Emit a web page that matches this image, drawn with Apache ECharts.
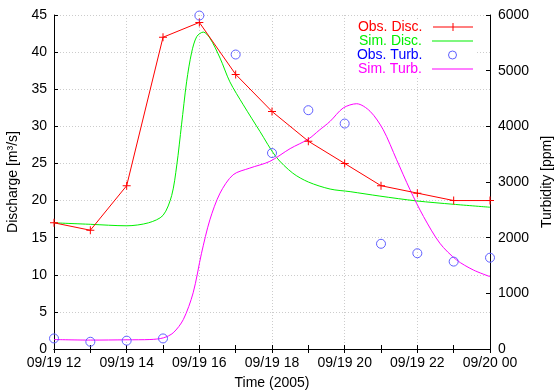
<!DOCTYPE html>
<html>
<head>
<meta charset="utf-8">
<script src="https://cdn.jsdelivr.net/npm/echarts@6/dist/echarts.min.js"></script>
<style>
html,body{margin:0;padding:0;background:#fff;}
#c{width:556px;height:392px;}
</style>
</head>
<body>
<div id="c"></div>
<script>
// Time in hours from 09/19 00 (24 = 09/20 00)
var obsDiscT = [12, 13, 14, 15, 16, 17, 18, 19, 20, 21, 22, 23, 24];
var obsDiscV = [17, 16, 22, 42, 44, 37, 32, 28, 25, 22, 21, 20, 20];

var simDiscT = [12, 13, 14, 14.6, 15.0, 15.24, 15.38, 15.51, 15.65, 15.79, 15.93, 16.11, 16.29, 16.57, 16.84, 17.21, 17.67, 18.11, 18.57, 19.0, 19.6, 20.15, 20.97, 21.98, 22.99, 24];
var simDiscV = [17.0, 16.8, 16.6, 17.0, 18.0, 20.7, 24.8, 30.2, 36.0, 40.0, 42.1, 42.7, 41.9, 39.2, 36.0, 32.9, 29.3, 25.9, 23.7, 22.5, 21.55, 21.2, 20.6, 19.95, 19.5, 19.1];

var obsTurbT = [12, 13, 14, 15, 16, 17, 18, 19, 20, 21, 22, 23, 24];
var obsTurbV = [190, 130, 150, 190, 5990, 5290, 3520, 4290, 4050, 1890, 1720, 1570, 1640];

var simTurbT = [12, 13, 14, 14.64, 15.01, 15.28, 15.56, 15.83, 16.06, 16.29, 16.57, 16.93, 17.39, 17.94, 18.5, 19.0, 19.3, 19.6, 19.96, 20.33, 20.7, 21.06, 21.43, 21.8, 22.17, 22.62, 23.08, 23.54, 24];
var simTurbV = [170, 160, 165, 170, 200, 290, 530, 1010, 1720, 2320, 2800, 3130, 3250, 3370, 3600, 3770, 3930, 4090, 4330, 4406, 4270, 3940, 3400, 2860, 2380, 1900, 1600, 1420, 1300];

var xTicks = {12: '09/19 12', 14: '09/19 14', 16: '09/19 16', 18: '09/19 18', 20: '09/19 20', 22: '09/19 22', 24: '09/20 00'};

function pairs(t, v) { return t.map(function (x, i) { return [x, v[i]]; }); }

var FONT = 'Liberation Sans';
var GREEN = '#00f000';
var BLUE = '#6060ff';
var chart = echarts.init(document.getElementById('c'), null, {renderer: 'canvas'});
var grid = {left: 54, right: 66, top: 15, bottom: 43, containLabel: false, outerBoundsMode: 'none'};
var splitStyle = {show: true, lineStyle: {color: '#cccccc', type: [1, 2], width: 1}};
var plusIcon = 'path://M0,3.5H8V4.5H0Z M3.5,0H4.5V8H3.5Z';
var CLEAR = 'rgba(0,0,0,0)';

function leg(name, color, top, icon, iw, ih, right, padR, extra) {
  var o = {
    data: [{name: name, icon: icon}],
    orient: 'vertical', align: 'right', right: right, top: top, padding: 0,
    itemWidth: iw, itemHeight: ih,
    textStyle: {color: color, fontFamily: FONT, fontSize: 14, lineHeight: 14, padding: [0, padR, 0, 0]},
    selectedMode: false
  };
  if (extra) o.itemStyle = extra;
  return o;
}

chart.setOption({
  animation: false,
  backgroundColor: '#fff',
  grid: grid,
  graphic: [{type: 'rect', left: 345, top: 19, shape: {width: 132, height: 58}, style: {fill: '#fff'}, z: 1}],
  legend: [
    leg('Obs. Disc.', '#ff0000', 20, 'path://M0,3.5H40V4.5H0Z M19.5,0H20.5V8H19.5Z', 41, 8, 83, 5, {borderWidth: 0}),
    leg('Sim. Disc.', GREEN, 34, 'path://M0,0H40V1H0Z', 41, 1.2, 83, 5, {borderWidth: 0}),
    leg('Obs. Turb.', '#0000ff', 48, 'circle', 8, 8, 99, 21, {color: CLEAR, borderColor: BLUE, borderWidth: 1}),
    leg('Sim. Turb.', '#ff00ff', 62, 'path://M0,0H40V1H0Z', 41, 1.2, 83, 5, {borderWidth: 0})
  ],
  xAxis: [{
    type: 'value', min: 12, max: 24, interval: 2, position: 'bottom',
    name: 'Time (2005)', nameLocation: 'middle', nameGap: 27,
    nameTextStyle: {fontFamily: FONT, fontSize: 14, color: '#000'},
    axisLine: {show: true, lineStyle: {color: '#000', width: 1}},
    axisTick: {show: true, inside: true, length: 4, lineStyle: {color: '#000'}},
    minorTick: {show: true, splitNumber: 2, length: 4, lineStyle: {color: '#000'}},
    splitLine: splitStyle,
    axisLabel: {fontFamily: FONT, fontSize: 14, color: '#000', margin: 7,
      formatter: function (v) { return xTicks[v] || ''; }}
  }, {
    type: 'value', min: 12, max: 24, interval: 2, position: 'top',
    axisLine: {show: true, lineStyle: {color: '#000', width: 1}},
    axisTick: {show: true, inside: true, length: 4, lineStyle: {color: '#000'}},
    minorTick: {show: true, splitNumber: 2, length: 4, lineStyle: {color: '#000'}},
    splitLine: {show: false},
    axisLabel: {show: false}
  }],
  yAxis: [{
    type: 'value', min: 0, max: 45, interval: 5, position: 'left',
    name: 'Discharge [m³/s]', nameLocation: 'middle', nameGap: 30, nameRotate: 90,
    nameTextStyle: {fontFamily: FONT, fontSize: 14, color: '#000'},
    axisLine: {show: true, lineStyle: {color: '#000', width: 1}},
    axisTick: {show: true, inside: true, length: 4, lineStyle: {color: '#000'}},
    splitLine: splitStyle,
    axisLabel: {fontFamily: FONT, fontSize: 14, color: '#000', margin: 7}
  }, {
    type: 'value', min: 0, max: 6000, interval: 1000, position: 'right',
    name: 'Turbidity [ppm]', nameLocation: 'middle', nameGap: 47, nameRotate: 90,
    nameTextStyle: {fontFamily: FONT, fontSize: 14, color: '#000'},
    axisLine: {show: true, lineStyle: {color: '#000', width: 1}},
    axisTick: {show: true, inside: true, length: 4, lineStyle: {color: '#000'}},
    splitLine: {show: false},
    axisLabel: {fontFamily: FONT, fontSize: 14, color: '#000', margin: 8,
      formatter: function (v) { return String(v); }}
  }],
  series: [{
    name: 'Obs. Disc.', type: 'line', xAxisIndex: 0, yAxisIndex: 0,
    data: pairs(obsDiscT, obsDiscV), color: '#ff0000',
    lineStyle: {width: 1, color: '#ff0000'},
    symbol: plusIcon, symbolSize: 8, showSymbol: true,
    itemStyle: {color: '#ff0000', borderWidth: 0}, z: 3
  }, {
    name: 'Sim. Disc.', type: 'line', xAxisIndex: 0, yAxisIndex: 0,
    data: pairs(simDiscT, simDiscV), color: GREEN, smooth: 0.3,
    lineStyle: {width: 1, color: GREEN}, symbol: 'none', z: 2
  }, {
    name: 'Obs. Turb.', type: 'scatter', xAxisIndex: 0, yAxisIndex: 1,
    data: pairs(obsTurbT, obsTurbV), color: BLUE,
    symbol: 'circle', symbolSize: 9,
    itemStyle: {color: CLEAR, borderColor: BLUE, borderWidth: 1, opacity: 1}, z: 4
  }, {
    name: 'Sim. Turb.', type: 'line', xAxisIndex: 0, yAxisIndex: 1,
    data: pairs(simTurbT, simTurbV), color: '#ff00ff', smooth: 0.3,
    lineStyle: {width: 1, color: '#ff00ff'}, symbol: 'none', z: 2
  }]
});
</script>
</body>
</html>
